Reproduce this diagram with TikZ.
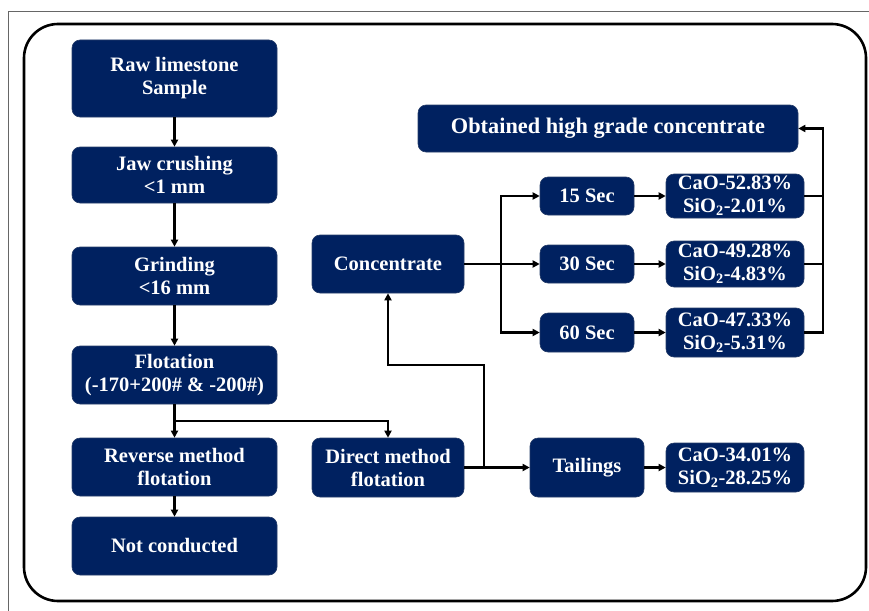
\documentclass[tikz,border=0pt]{standalone}
\usepackage{fontspec}
\setmainfont{Liberation Serif}
\usetikzlibrary{arrows.meta}
\definecolor{navy}{RGB}{0,33,96}
\begin{document}
\begin{tikzpicture}[x=1pt,y=-1pt,
  box/.style={draw=navy!70!gray,line width=0.6pt,fill=navy,rounded corners=8pt,text=white,
    font=\bfseries\fontsize{20.5}{23}\selectfont,align=center,inner sep=0pt},
  conn/.style={line width=2.4pt,-{Triangle[length=7pt,width=7pt]}},
  plain/.style={line width=2.4pt}]
\useasboundingbox (0,0) rectangle (869,610);
\draw[gray!80!black,line width=0.8pt] (8,620) -- (8,11) -- (880,11);
\draw[line width=2.6pt,rounded corners=34pt] (24,24) rectangle (866,601);
% left column
\node[box,minimum width=205pt,minimum height=77pt] (raw) at (174.5,78.5) {Raw limestone\\Sample};
\node[box,minimum width=205pt,minimum height=56pt] (jaw) at (174.5,175) {Jaw crushing\\{<}1 mm};
\node[box,minimum width=205pt,minimum height=58pt] (grind) at (174.5,276) {Grinding\\{<}16 mm};
\node[box,minimum width=205pt,minimum height=58pt] (flot) at (174.5,375) {Flotation\\(-170+200\# \& -200\#)};
\node[box,minimum width=205pt,minimum height=58pt] (rev) at (174.5,467) {Reverse method\\flotation};
\node[box,minimum width=205pt,minimum height=58pt] (notc) at (174.5,546) {Not conducted};
% middle
\node[box,minimum width=152pt,minimum height=59pt] (direct) at (388,467.5) {Direct method\\flotation};
\node[box,minimum width=152pt,minimum height=58pt] (conc) at (388,264) {Concentrate};
\node[box,minimum width=380pt,minimum height=47pt,font=\bfseries\fontsize{22.3}{24}\selectfont] (obt) at (608,128.5) {Obtained high grade concentrate};
% times
\node[box,minimum width=94pt,minimum height=38pt] (s15) at (587,196) {15 Sec};
\node[box,minimum width=94pt,minimum height=38pt] (s30) at (587,264) {30 Sec};
\node[box,minimum width=94pt,minimum height=39pt] (s60) at (587,332.5) {60 Sec};
\node[box,minimum width=138pt,minimum height=44pt] (r15) at (735,196) {CaO-52.83\%\\SiO\textsubscript{2}-2.01\%};
\node[box,minimum width=138pt,minimum height=46pt] (r30) at (735,264) {CaO-49.28\%\\SiO\textsubscript{2}-4.83\%};
\node[box,minimum width=138pt,minimum height=49pt] (r60) at (735,332.5) {CaO-47.33\%\\SiO\textsubscript{2}-5.31\%};
\node[box,minimum width=114pt,minimum height=59pt] (tail) at (587,467.5) {Tailings};
\node[box,minimum width=138pt,minimum height=49pt] (rt) at (735,467.5) {CaO-34.01\%\\SiO\textsubscript{2}-28.25\%};
% connectors left column
\draw[conn] (raw) -- (jaw);
\draw[conn] (jaw) -- (grind);
\draw[conn] (grind) -- (flot);
\draw[conn] (flot) -- (rev);
\draw[conn] (rev) -- (notc);
\coordinate (fb) at (174.5,421);
\draw[conn] (fb) -| (direct.north);
% direct to tailings and concentrate
\coordinate (db) at (484,467.5);
\draw[conn] (direct.east) -- (tail.west);
\draw[conn] (db) |- (388,365) -- (conc.south);
% concentrate branches
\coordinate (cb) at (501,264);
\draw[plain] (conc.east) -- (cb);
\draw[conn] (501,332.5) |- (s15.west);
\draw[conn] (cb) -- (s30.west);
\draw[conn] (501,300) |- (s60.west);
\draw[conn] (s15) -- (r15);
\draw[conn] (s30) -- (r30);
\draw[conn] (s60) -- (r60);
\draw[conn] (tail) -- (rt);
% return line
\draw[plain] (r15.east) -- (823,196);
\draw[plain] (r30.east) -- (823,264);
\draw[conn] (r60.east) -| (823,200) |- (obt.east);
\end{tikzpicture}
\end{document}
